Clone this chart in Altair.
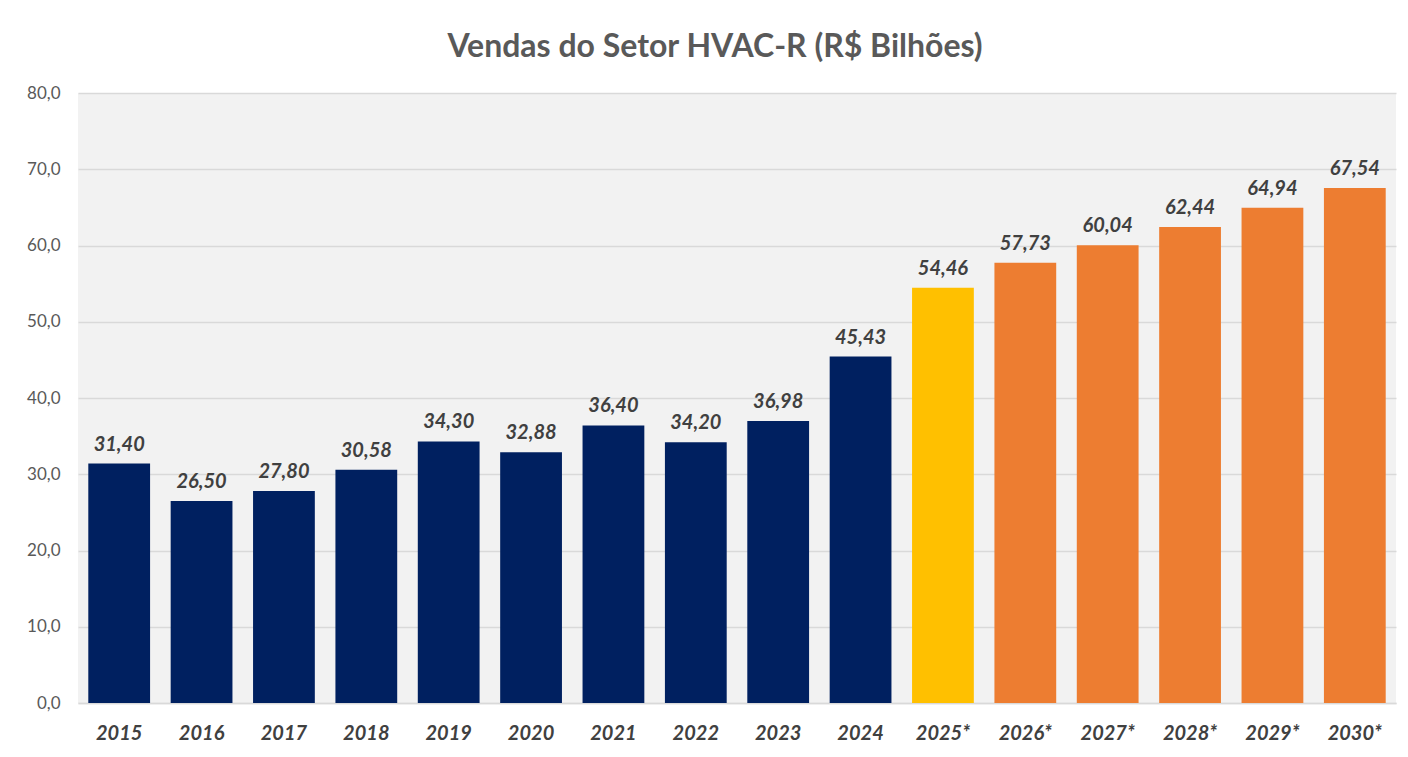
import altair as alt
import pandas as pd

anos = ["2015", "2016", "2017", "2018", "2019", "2020", "2021", "2022",
        "2023", "2024", "2025*", "2026*", "2027*", "2028*", "2029*", "2030*"]
vendas = [31.40, 26.50, 27.80, 30.58, 34.30, 32.88, 36.40, 34.20,
          36.98, 45.43, 54.46, 57.73, 60.04, 62.44, 64.94, 67.54]
grupo = ["real"] * 10 + ["2025"] + ["proj"] * 5

df = pd.DataFrame({"ano": anos, "vendas": vendas, "grupo": grupo})
df["rotulo"] = [f"{v:.2f}".replace(".", ",") for v in vendas]

FONT = "Lato"

x = alt.X("ano:N", sort=anos, title=None,
          scale=alt.Scale(paddingInner=0.25, paddingOuter=0.125),
          axis=alt.Axis(labelAngle=0, labelFont=FONT, labelFontSize=20,
                        labelFontWeight="bold", labelFontStyle="italic",
                        labelColor="#404040", labelPadding=20, ticks=False,
                        domainColor="#d9d9d9", domainWidth=1.5))
y = alt.Y("vendas:Q", title=None,
          scale=alt.Scale(domain=[0, 80], nice=False),
          axis=alt.Axis(values=list(range(0, 81, 10)),
                        labelExpr="replace(format(datum.value, '.1f'), '.', ',')",
                        labelFont=FONT, labelFontSize=17, labelColor="#595959",
                        labelPadding=18, ticks=False, domain=False,
                        gridColor="#d9d9d9", gridWidth=1.5))

bars = alt.Chart(df).mark_bar().encode(
    x=x, y=y,
    color=alt.Color("grupo:N", legend=None,
                    scale=alt.Scale(domain=["real", "2025", "proj"],
                                    range=["#002060", "#FFC000", "#ED7D31"])),
)

labels = alt.Chart(df).mark_text(
    font=FONT, fontSize=20, fontWeight="bold", fontStyle="italic",
    color="#404040", baseline="bottom", dy=-9,
).encode(x=alt.X("ano:N", sort=anos), y="vendas:Q", text="rotulo:N")

chart = (bars + labels).properties(
    width=1318, height=610,
    padding={"left": 70, "top": 85, "right": 4, "bottom": 40},
    autosize=alt.AutoSizeParams(type="none"),
    background="white",
    title=alt.TitleParams("Vendas do Setor HVAC-R (R$ Bilhões)", font=FONT,
                          fontSize=32, fontWeight="bold", color="#595959",
                          offset=20, dx=-22),
).configure_view(fill="#f2f2f2", stroke=None)

chart.save("out.html", embed_options={"renderer": "svg", "actions": False})
